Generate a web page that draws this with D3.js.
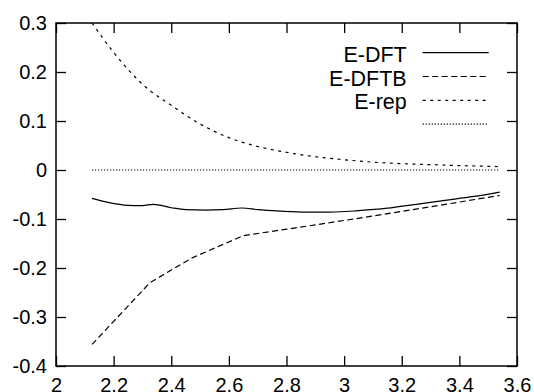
<!DOCTYPE html>
<html>
<head>
<meta charset="utf-8">
<script src="https://cdn.jsdelivr.net/npm/d3@7"></script>
<style>
  body { margin: 0; background: #fff; }
  svg { display: block; }
  .tick text { font-family: "Liberation Sans", Arial, Helvetica, sans-serif; font-size: 20px; fill: #000; }
</style>
</head>
<body>
<div id="chart"></div>
<script>
// distance grid (x) and energies
const dftX = [2.125, 2.18, 2.25, 2.3, 2.338, 2.4, 2.45, 2.52, 2.58, 2.645, 2.7, 2.78, 2.87, 2.95, 3.05, 3.15, 3.25, 3.35, 3.45, 3.54];
const dftY = [-0.058, -0.066, -0.072, -0.0725, -0.070, -0.077, -0.081, -0.082, -0.081, -0.0775, -0.081, -0.084, -0.086, -0.086, -0.083, -0.078, -0.070, -0.062, -0.054, -0.045];

const dftbX = [2.125, 2.326, 2.47, 2.65, 2.9, 3.1, 3.3, 3.54];
const dftbY = [-0.356, -0.23, -0.18, -0.134, -0.112, -0.094, -0.075, -0.052];

const repX = [2.125, 2.2, 2.3, 2.4, 2.5, 2.6, 2.7, 2.8, 2.9, 3.0, 3.1, 3.2, 3.3, 3.4, 3.54];
const repY = [0.30, 0.24, 0.175, 0.132, 0.094, 0.066, 0.048, 0.036, 0.027, 0.021, 0.016, 0.013, 0.011, 0.009, 0.007];

const zeroX = [2.125, 3.54];
const zeroY = [0, 0];

const seriesNames = ["E-DFT", "E-DFTB", "E-rep", ""];
const xTicks = [2, 2.2, 2.4, 2.6, 2.8, 3, 3.2, 3.4, 3.6];
const xTickLabels = ["2", "2.2", "2.4", "2.6", "2.8", "3", "3.2", "3.4", "3.6"];
const yTicks = [-0.4, -0.3, -0.2, -0.1, 0, 0.1, 0.2, 0.3];
const yTickLabels = ["-0.4", "-0.3", "-0.2", "-0.1", "0", "0.1", "0.2", "0.3"];

const margin = { top: 23, right: 17, bottom: 26, left: 56 };
const totalW = 534, totalH = 392;
const width = totalW - margin.left - margin.right;
const height = totalH - margin.top - margin.bottom;

const svg = d3.select("#chart").append("svg")
  .attr("width", totalW)
  .attr("height", totalH);

const g = svg.append("g")
  .attr("transform", `translate(${margin.left},${margin.top})`);

const x = d3.scaleLinear().domain([2, 3.6]).range([0, width]);
const y = d3.scaleLinear().domain([-0.4, 0.3]).range([height, 0]);

svg.append("defs").append("clipPath").attr("id", "plotclip")
  .append("rect").attr("width", width).attr("height", height);

// axes: ticks point inward, mirrored on top and right
function styleAxis(sel) {
  sel.select(".domain").remove();
  sel.selectAll(".tick line").attr("stroke", "#000").attr("stroke-width", 1.3);
}

g.append("g")
  .attr("transform", `translate(0,${height})`)
  .call(d3.axisBottom(x).tickValues(xTicks).tickSizeInner(-10).tickSizeOuter(0).tickPadding(12)
    .tickFormat((d, i) => xTickLabels[i]))
  .call(styleAxis);

g.append("g")
  .call(d3.axisTop(x).tickValues(xTicks).tickSizeInner(-10).tickSizeOuter(0).tickFormat(""))
  .call(styleAxis);

g.append("g")
  .call(d3.axisLeft(y).tickValues(yTicks).tickSizeInner(-10).tickSizeOuter(0).tickPadding(9)
    .tickFormat((d, i) => yTickLabels[i]))
  .call(styleAxis);

g.append("g")
  .attr("transform", `translate(${width},0)`)
  .call(d3.axisRight(y).tickValues(yTicks).tickSizeInner(-10).tickSizeOuter(0).tickFormat(""))
  .call(styleAxis);

g.append("rect")
  .attr("width", width)
  .attr("height", height)
  .attr("fill", "none")
  .attr("stroke", "#000")
  .attr("stroke-width", 1.5);

const series = [
  { xs: dftX, ys: dftY, dash: null, curve: d3.curveMonotoneX },
  { xs: dftbX, ys: dftbY, dash: "6,3.5", curve: d3.curveLinear },
  { xs: repX, ys: repY, dash: "3,4.5", curve: d3.curveMonotoneX },
  { xs: zeroX, ys: zeroY, dash: "1.2,1.8", curve: d3.curveLinear }
];

const plot = g.append("g").attr("clip-path", "url(#plotclip)");

series.forEach((s) => {
  const line = d3.line()
    .x((d, i) => x(s.xs[i]))
    .y((d) => y(d))
    .curve(s.curve);
  plot.append("path")
    .datum(s.ys)
    .attr("d", line)
    .attr("fill", "none")
    .attr("stroke", "#000")
    .attr("stroke-width", 1.2)
    .attr("stroke-dasharray", s.dash);
});

// key, top right
const legend = g.append("g").attr("transform", `translate(${367 - margin.left},0)`);
series.forEach((s, i) => {
  const ly = 52.7 - margin.top + i * 23.8;
  legend.append("line")
    .attr("x1", 55.7).attr("x2", 121.7)
    .attr("y1", ly).attr("y2", ly)
    .attr("stroke", "#000")
    .attr("stroke-width", 1.2)
    .attr("stroke-dasharray", s.dash);
  legend.append("text")
    .attr("x", 39.7)
    .attr("y", ly + 9)
    .attr("text-anchor", "end")
    .style("font-family", "Liberation Sans, Arial, Helvetica, sans-serif")
    .style("font-size", "21.5px")
    .text(seriesNames[i]);
});
</script>
</body>
</html>
